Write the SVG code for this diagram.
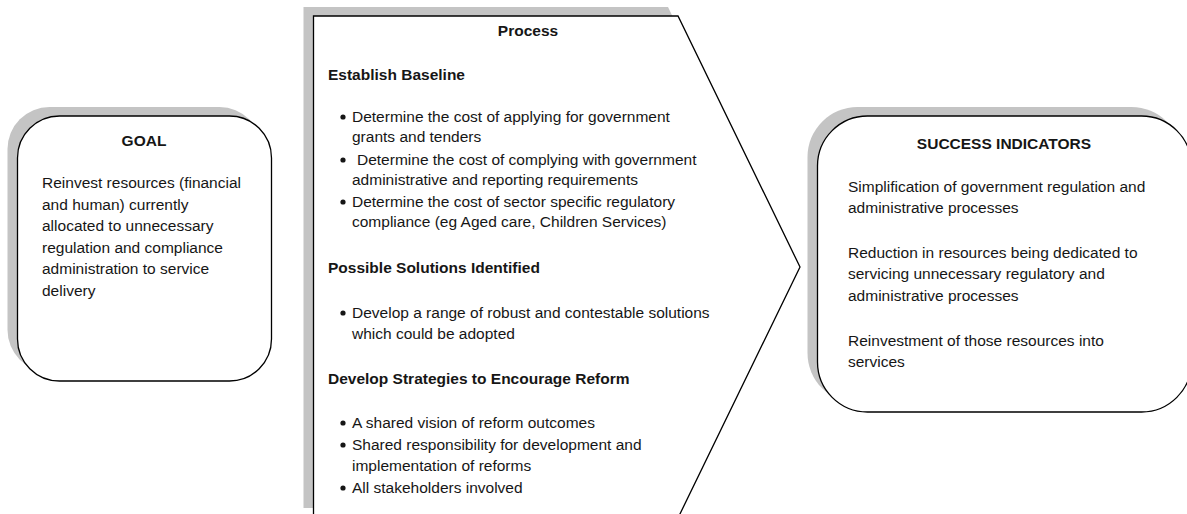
<svg xmlns="http://www.w3.org/2000/svg" xmlns:xlink="http://www.w3.org/1999/xlink" width="1187" height="514" viewBox="0 0 1187 514">
  <defs>
    <style>
      .shadow { fill: #c4c4c4; stroke: none; }
      .box { fill: #ffffff; stroke: #000000; stroke-width: 1.3; }
      text { font-family: "Liberation Sans", Arial, sans-serif; font-size: 15.5px; fill: #161616; }
      .title { font-weight: bold; text-anchor: middle; }
      .head { font-weight: bold; }
    </style>
    <circle id="dot" r="2.6" fill="#161616"/>
  </defs>

  <rect width="1187" height="514" fill="#ffffff"/>

  <!-- Goal -->
  <g id="goal">
    <rect class="shadow" x="7.5" y="107" width="254" height="265" rx="42" ry="42"/>
    <rect class="box" x="17.5" y="116" width="254" height="265" rx="42" ry="42"/>
    <text class="title" x="144" y="146">GOAL</text>
    <text x="42" y="188">Reinvest resources (financial</text>
    <text x="42" y="209.6">and human) currently</text>
    <text x="42" y="231.2">allocated to unnecessary</text>
    <text x="42" y="252.8">regulation and compliance</text>
    <text x="42" y="274.4">administration to service</text>
    <text x="42" y="296">delivery</text>
  </g>

  <!-- Process chevron -->
  <g id="process">
    <polygon class="shadow" points="303.5,7 668,7 790,258 668,508 303.5,508"/>
    <polygon class="box" points="313.5,16 678,16 800,267 678,518 313.5,518"/>
    <text class="title" x="528" y="36">Process</text>

    <text class="head" x="328" y="80">Establish Baseline</text>
    <use xlink:href="#dot" x="343" y="117"/>
    <text x="352" y="122">Determine the cost of applying for government</text>
    <text x="352" y="142">grants and tenders</text>
    <use xlink:href="#dot" x="343" y="160"/>
    <text x="357" y="165">Determine the cost of complying with government</text>
    <text x="352" y="185">administrative and reporting requirements</text>
    <use xlink:href="#dot" x="343" y="202"/>
    <text x="352" y="207">Determine the cost of sector specific regulatory</text>
    <text x="352" y="227">compliance (eg Aged care, Children Services)</text>

    <text class="head" x="328" y="273">Possible Solutions Identified</text>
    <use xlink:href="#dot" x="343" y="313"/>
    <text x="352" y="318">Develop a range of robust and contestable solutions</text>
    <text x="352" y="339">which could be adopted</text>

    <text class="head" x="328" y="384">Develop Strategies to Encourage Reform</text>
    <use xlink:href="#dot" x="343" y="423"/>
    <text x="352" y="428">A shared vision of reform outcomes</text>
    <use xlink:href="#dot" x="343" y="445"/>
    <text x="352" y="450">Shared responsibility for development and</text>
    <text x="352" y="471">implementation of reforms</text>
    <use xlink:href="#dot" x="343" y="488"/>
    <text x="352" y="493">All stakeholders involved</text>
  </g>

  <!-- Success indicators -->
  <g id="success">
    <rect class="shadow" x="807.5" y="107" width="374" height="296" rx="50" ry="50"/>
    <rect class="box" x="817.5" y="116" width="374" height="296" rx="50" ry="50"/>
    <text class="title" x="1004" y="149">SUCCESS INDICATORS</text>
    <text x="848" y="192">Simplification of government regulation and</text>
    <text x="848" y="213">administrative processes</text>
    <text x="848" y="258">Reduction in resources being dedicated to</text>
    <text x="848" y="279">servicing unnecessary regulatory and</text>
    <text x="848" y="301">administrative processes</text>
    <text x="848" y="346">Reinvestment of those resources into</text>
    <text x="848" y="367">services</text>
  </g>

  <!-- no connectors between the three stages -->
  <g id="connectors"/>
</svg>
